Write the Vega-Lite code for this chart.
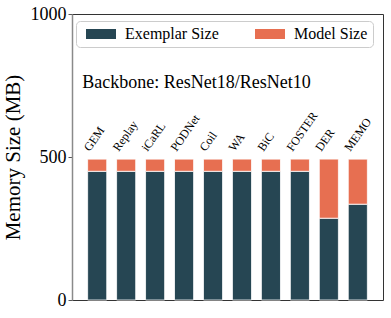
{
  "$schema": "https://vega.github.io/schema/vega-lite/v6.json",
  "width": 311,
  "height": 286,
  "autosize": {"type": "none"},
  "padding": {"left": 72, "top": 14, "right": 8, "bottom": 18},
  "background": "white",
  "config": {
    "font": "Liberation Serif",
    "view": {"stroke": "#333333", "strokeWidth": 1}
  },
  "datasets": {
    "bars": [
      {"method": "GEM", "part": "Exemplar Size", "order": 1, "value": 450},
      {"method": "GEM", "part": "Model Size", "order": 2, "value": 42.6},
      {"method": "Replay", "part": "Exemplar Size", "order": 1, "value": 450},
      {"method": "Replay", "part": "Model Size", "order": 2, "value": 42.6},
      {"method": "iCaRL", "part": "Exemplar Size", "order": 1, "value": 450},
      {"method": "iCaRL", "part": "Model Size", "order": 2, "value": 42.6},
      {"method": "PODNet", "part": "Exemplar Size", "order": 1, "value": 450},
      {"method": "PODNet", "part": "Model Size", "order": 2, "value": 42.6},
      {"method": "Coil", "part": "Exemplar Size", "order": 1, "value": 450},
      {"method": "Coil", "part": "Model Size", "order": 2, "value": 42.6},
      {"method": "WA", "part": "Exemplar Size", "order": 1, "value": 450},
      {"method": "WA", "part": "Model Size", "order": 2, "value": 42.6},
      {"method": "BiC", "part": "Exemplar Size", "order": 1, "value": 450},
      {"method": "BiC", "part": "Model Size", "order": 2, "value": 42.6},
      {"method": "FOSTER", "part": "Exemplar Size", "order": 1, "value": 450},
      {"method": "FOSTER", "part": "Model Size", "order": 2, "value": 42.6},
      {"method": "DER", "part": "Exemplar Size", "order": 1, "value": 286},
      {"method": "DER", "part": "Model Size", "order": 2, "value": 206.6},
      {"method": "MEMO", "part": "Exemplar Size", "order": 1, "value": 335},
      {"method": "MEMO", "part": "Model Size", "order": 2, "value": 157.6}
    ],
    "labels": [
      {"method": "GEM", "total": 492.6},
      {"method": "Replay", "total": 492.6},
      {"method": "iCaRL", "total": 492.6},
      {"method": "PODNet", "total": 492.6},
      {"method": "Coil", "total": 492.6},
      {"method": "WA", "total": 492.6},
      {"method": "BiC", "total": 492.6},
      {"method": "FOSTER", "total": 492.6},
      {"method": "DER", "total": 492.6},
      {"method": "MEMO", "total": 492.6}
    ],
    "note": [
      {"method": "GEM", "y": 740, "text": "Backbone: ResNet18/ResNet10"}
    ]
  },
  "encoding": {
    "x": {
      "field": "method",
      "type": "nominal",
      "sort": ["GEM", "Replay", "iCaRL", "PODNet", "Coil", "WA", "BiC", "FOSTER", "DER", "MEMO"],
      "scale": {"paddingInner": 0.34, "paddingOuter": 0.54},
      "axis": null
    }
  },
  "layer": [
    {
      "data": {"name": "bars"},
      "mark": {"type": "bar", "stroke": "white", "strokeWidth": 0.8},
      "encoding": {
        "y": {
          "field": "value",
          "type": "quantitative",
          "stack": "zero",
          "scale": {"domain": [0, 1000], "nice": false},
          "axis": {
            "values": [0, 500, 1000],
            "format": "d",
            "title": "Memory Size (MB)",
            "titleFontSize": 21,
            "titleFontWeight": "normal",
            "titleColor": "black",
            "titlePadding": 7,
            "labelFontSize": 18,
            "labelColor": "black",
            "labelPadding": 2,
            "tickSize": 4,
            "tickColor": "#555555",
            "domainColor": "#8a8a8a",
            "domainWidth": 1.5,
            "grid": false
          }
        },
        "order": {"field": "order", "type": "quantitative"},
        "color": {
          "field": "part",
          "type": "nominal",
          "scale": {"domain": ["Exemplar Size", "Model Size"], "range": ["#264653", "#e76f51"]},
          "legend": {
            "title": null,
            "orient": "none",
            "legendX": 4,
            "legendY": 7,
            "direction": "horizontal",
            "labelFontSize": 16,
            "labelColor": "black",
            "symbolType": "M-3,-1h6v2h-6z",
            "symbolSize": 100,
            "symbolStrokeWidth": 0,
            "symbolOffset": 12,
            "labelOffset": 16,
            "columnPadding": 31,
            "padding": 5,
            "fillColor": "white",
            "strokeColor": "#cccccc",
            "cornerRadius": 4
          }
        }
      }
    },
    {
      "data": {"name": "labels"},
      "mark": {"type": "text", "angle": -55, "align": "left", "baseline": "alphabetic", "fontSize": 12, "xOffset": -7.5, "yOffset": -7},
      "encoding": {
        "y": {"field": "total", "type": "quantitative"},
        "text": {"field": "method"}
      }
    },
    {
      "data": {"name": "note"},
      "mark": {"type": "text", "align": "left", "baseline": "alphabetic", "fontSize": 18, "dx": -15},
      "encoding": {
        "y": {"field": "y", "type": "quantitative"},
        "text": {"field": "text"}
      }
    }
  ]
}
